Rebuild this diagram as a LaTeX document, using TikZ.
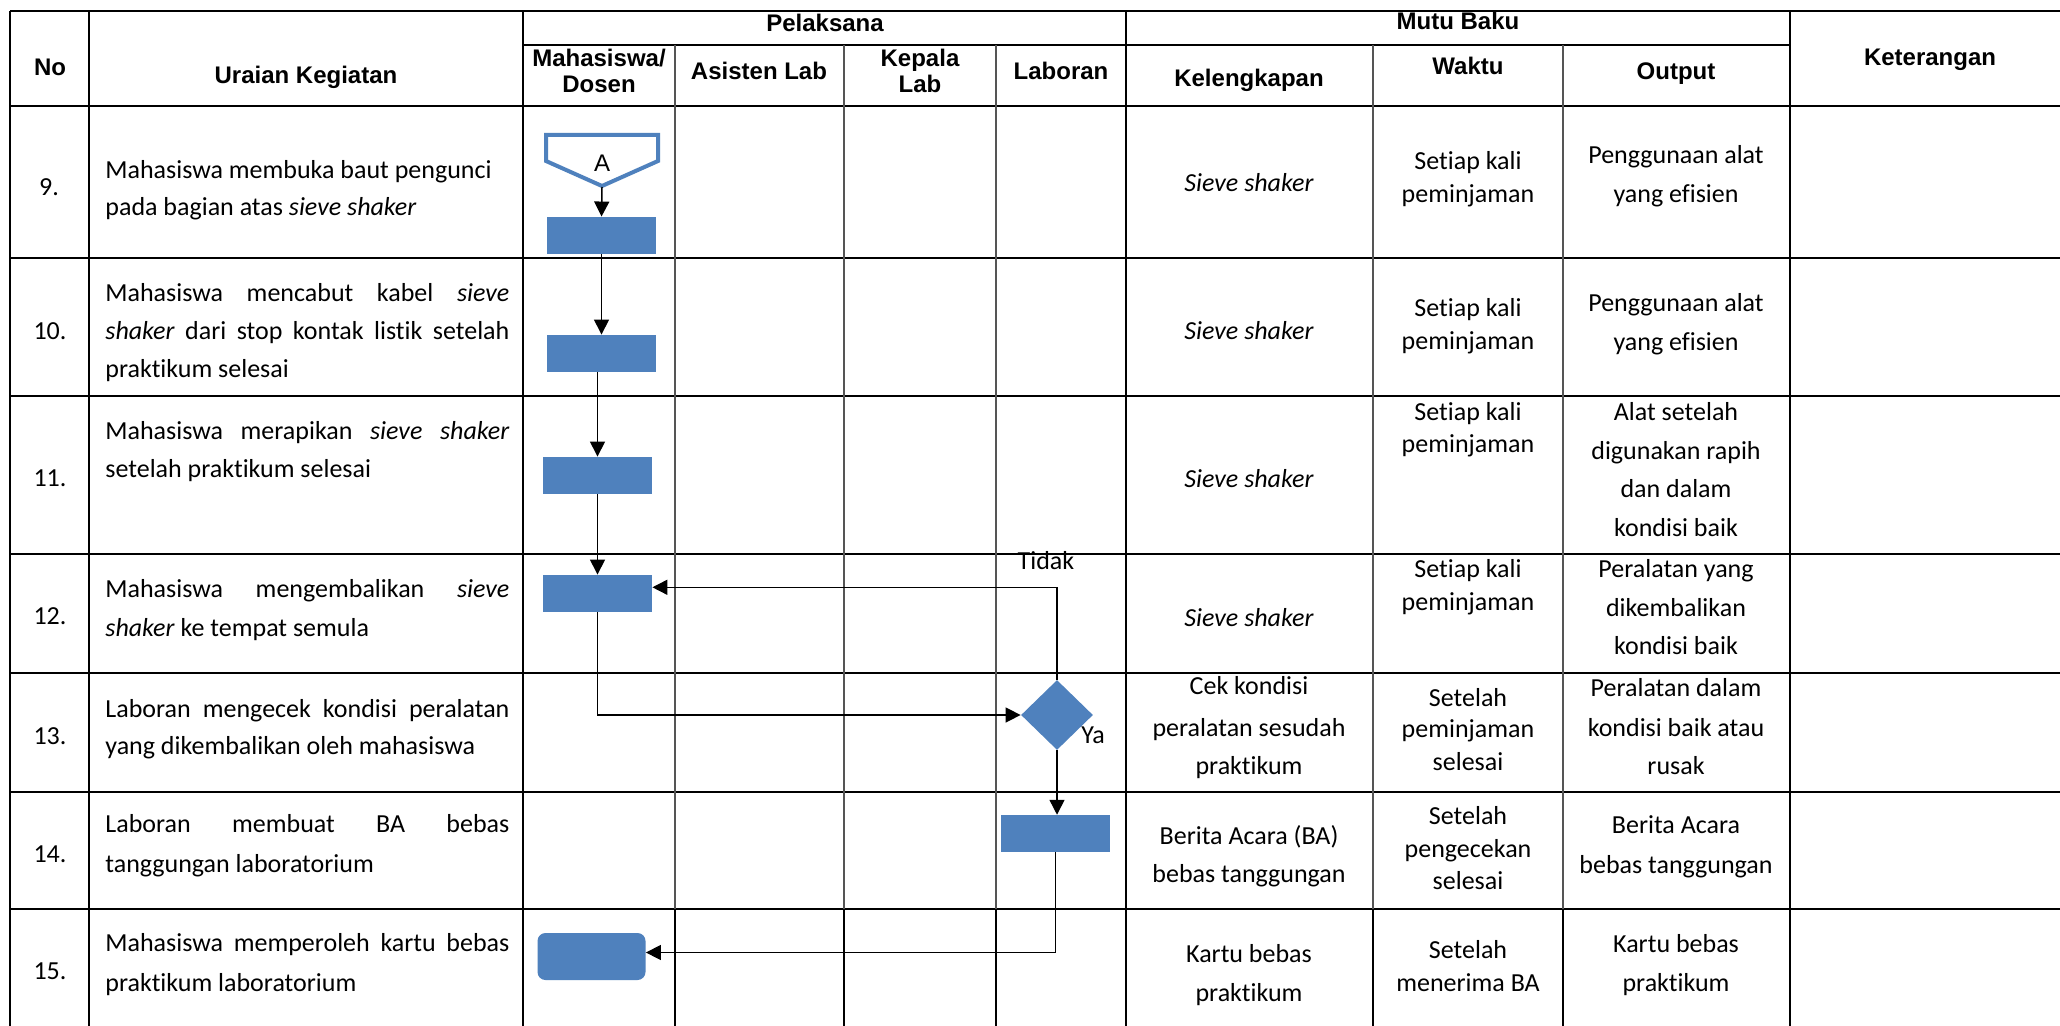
\documentclass[tikz,border=0pt]{standalone}
\usepackage{fontspec}
\setmainfont{Carlito}[Ligatures=NoCommon]
\newfontfamily\hdrfont{Liberation Sans}
\usetikzlibrary{shapes.geometric,arrows.meta}
\definecolor{flowblue}{HTML}{4F81BD}
\definecolor{gridgray}{HTML}{555555}
\tikzset{
 body/.style={font=\fontsize{13}{15}\selectfont, inner sep=0pt, anchor=mid},
 bodyL/.style={body, anchor=mid west},
 hdr/.style={font=\hdrfont\bfseries\fontsize{12}{14}\selectfont, inner sep=0pt, anchor=mid},
 hrule/.style={line width=1pt, black},
 vmain/.style={line width=0.8pt, black},
 vsub/.style={line width=0.65pt, gridgray},
 proc/.style={rectangle, fill=flowblue, draw=none, minimum width=54.5pt, minimum height=18.35pt, inner sep=0pt},
 endbox/.style={proc, rounded corners=4pt, minimum width=54pt, minimum height=23.5pt},
 decision/.style={diamond, fill=flowblue, draw=none, minimum width=36pt, minimum height=35pt, inner sep=0pt},
 arr/.style={line width=0.75pt, -{Triangle[length=7.5pt,width=7.5pt]}},
}
\newcommand\mytext[4]{\node[body] (#1) at (#2,#3) {#4};}
\newcommand\myjust[3]{\node[bodyL] (#1) at (105,#2) {\makebox[202pt][s]{#3}};}
\newcommand\myleft[3]{\node[bodyL] (#1) at (105,#2) {#3};}
\begin{document}
\begin{tikzpicture}[x=0.5pt,y=-0.5pt]
\useasboundingbox (0,0) rectangle (2060,1026);
\fill[white] (0,0) rectangle (2060,1026);

% ---------- table grid ----------
\foreach \yy in {11,106,258,396,554,673,792,909}
  \draw[hrule] (10,\yy) -- (2060,\yy);
\draw[hrule] (523,45.5) -- (1790,45.5);
\foreach \xx in {10,89,523,1126,1790}
  \draw[vmain] (\xx,11) -- (\xx,1026);
\foreach \xx in {675,844,996,1373,1563}
  \draw[vsub] (\xx,45.5) -- (\xx,1026);
\foreach \xx in {675,844,996,1373,1563}
  \draw[vmain] (\xx,909) -- (\xx,1026);

% ---------- headers ----------
\node[hdr] (hNo) at (50,71) {No};
\node[hdr] (hUr) at (306,79) {Uraian Kegiatan};
\node[hdr] (hPel) at (825,27) {Pelaksana};
\node[hdr] (hMa) at (599,62) {Mahasiswa/};
\node[hdr] (hDo) at (599,88) {Dosen};
\node[hdr] (hAs) at (759,75) {Asisten Lab};
\node[hdr] (hKe) at (920,62) {Kepala};
\node[hdr] (hLb) at (920,88) {Lab};
\node[hdr] (hLa) at (1061,75) {Laboran};
\node[hdr] (hMu) at (1458,25) {Mutu Baku};
\node[hdr] (hKl) at (1249,82) {Kelengkapan};
\node[hdr] (hWa) at (1468,70) {Waktu};
\node[hdr] (hOu) at (1676,75) {Output};
\node[hdr] (hKt) at (1930,61) {Keterangan};

% ---------- numbers ----------
\mytext{n9}{49}{191}{9.}
\mytext{n10}{50}{335}{10.}
\mytext{n11}{50}{482}{11.}
\mytext{n12}{50}{620}{12.}
\mytext{n13}{50}{740}{13.}
\mytext{n14}{50}{858}{14.}
\mytext{n15}{50}{975}{15.}

% ---------- uraian ----------
\myleft{u9a}{174}{Mahasiswa membuka baut pengunci}
\myleft{u9b}{211}{pada bagian atas \textit{sieve shaker}}
\myjust{u10a}{297}{Mahasiswa mencabut kabel \textit{sieve}}
\myjust{u10b}{335}{\textit{shaker} dari stop kontak listik setelah}
\myleft{u10c}{373}{praktikum selesai}
\myjust{u11a}{435}{Mahasiswa merapikan \textit{sieve shaker}}
\myleft{u11b}{473}{setelah praktikum selesai}
\myjust{u12a}{593}{Mahasiswa mengembalikan \textit{sieve}}
\myleft{u12b}{632}{\textit{shaker} ke tempat semula}
\myjust{u13a}{713}{Laboran mengecek kondisi peralatan}
\myleft{u13b}{750}{yang dikembalikan oleh mahasiswa}
\myjust{u14a}{828}{Laboran membuat BA bebas}
\myleft{u14b}{868}{tanggungan laboratorium}
\myjust{u15a}{947}{Mahasiswa memperoleh kartu bebas}
\myleft{u15b}{987}{praktikum laboratorium}

% ---------- mutu baku ----------
\mytext{k9}{1249}{187}{\textit{Sieve shaker}}
\mytext{w9a}{1468}{165}{Setiap kali}
\mytext{w9b}{1468}{198}{peminjaman}
\mytext{o9a}{1676}{159}{Penggunaan alat}
\mytext{o9b}{1676}{198}{yang efisien}

\mytext{k10}{1249}{335}{\textit{Sieve shaker}}
\mytext{w10a}{1468}{312}{Setiap kali}
\mytext{w10b}{1468}{345}{peminjaman}
\mytext{o10a}{1676}{307}{Penggunaan alat}
\mytext{o10b}{1676}{346}{yang efisien}

\mytext{k11}{1249}{483}{\textit{Sieve shaker}}
\mytext{w11a}{1468}{416}{Setiap kali}
\mytext{w11b}{1468}{448}{peminjaman}
\mytext{o11a}{1676}{416}{Alat setelah}
\mytext{o11b}{1676}{455}{digunakan rapih}
\mytext{o11c}{1676}{493}{dan dalam}
\mytext{o11d}{1676}{532}{kondisi baik}

\mytext{k12}{1249}{622}{\textit{Sieve shaker}}
\mytext{w12a}{1468}{573}{Setiap kali}
\mytext{w12b}{1468}{606}{peminjaman}
\mytext{o12a}{1676}{573}{Peralatan yang}
\mytext{o12b}{1676}{612}{dikembalikan}
\mytext{o12c}{1676}{650}{kondisi baik}

\mytext{k13a}{1249}{690}{Cek kondisi}
\mytext{k13b}{1249}{732}{peralatan sesudah}
\mytext{k13c}{1249}{770}{praktikum}
\mytext{w13a}{1468}{702}{Setelah}
\mytext{w13b}{1468}{733}{peminjaman}
\mytext{w13c}{1468}{766}{selesai}
\mytext{o13a}{1676}{692}{Peralatan dalam}
\mytext{o13b}{1676}{732}{kondisi baik atau}
\mytext{o13c}{1676}{770}{rusak}

\mytext{k14a}{1249}{840}{Berita Acara (BA)}
\mytext{k14b}{1249}{878}{bebas tanggungan}
\mytext{w14a}{1468}{820}{Setelah}
\mytext{w14b}{1468}{853}{pengecekan}
\mytext{w14c}{1468}{885}{selesai}
\mytext{o14a}{1676}{829}{Berita Acara}
\mytext{o14b}{1676}{869}{bebas tanggungan}

\mytext{k15a}{1249}{958}{Kartu bebas}
\mytext{k15b}{1249}{997}{praktikum}
\mytext{w15a}{1468}{954}{Setelah}
\mytext{w15b}{1468}{987}{menerima BA}
\mytext{o15a}{1676}{948}{Kartu bebas}
\mytext{o15b}{1676}{987}{praktikum}

% ---------- flowchart ----------
\draw[flowblue, line width=2pt, fill=white, line join=miter]
  (546,135) -- (658,135) -- (658,161) -- (602,186) -- (546,161) -- cycle;
\node[inner sep=0pt, anchor=mid, font=\hdrfont\fontsize{12}{14}\selectfont] (conA) at (602,167) {A};
\coordinate (Atip) at (602,187);

\node[proc] (r9) at (601.5,235.3) {};
\node[proc] (r10) at (601.5,353.3) {};
\node[proc] (r11) at (597.5,475.3) {};
\node[proc] (r12) at (597.5,593.3) {};
\node[decision] (dia) at (1057,715) {};
\node[proc] (r14) at (1055.5,833.5) {};
\node[endbox] (r15) at (591.5,956.5) {};

\draw[arr] (Atip) -- (r9.north);
\draw[arr] (r9.south) -- (r10.north);
\draw[arr] (r11.north |- r10.south) -- (r11.north);
\draw[arr] (r11.south) -- (r12.north);
\draw[arr] (r12.south) |- (dia.west);
\draw[arr] (dia.north) |- ([yshift=3pt]r12.east);
\draw[arr] (dia.south) -- (dia.south |- r14.north);
\draw[arr] (r14.south) |- ([yshift=2pt]r15.east);

\node[body] (tidak) at (1046,565) {Tidak};
\node[body] (ya) at (1093,739) {Ya};
\end{tikzpicture}
\end{document}
